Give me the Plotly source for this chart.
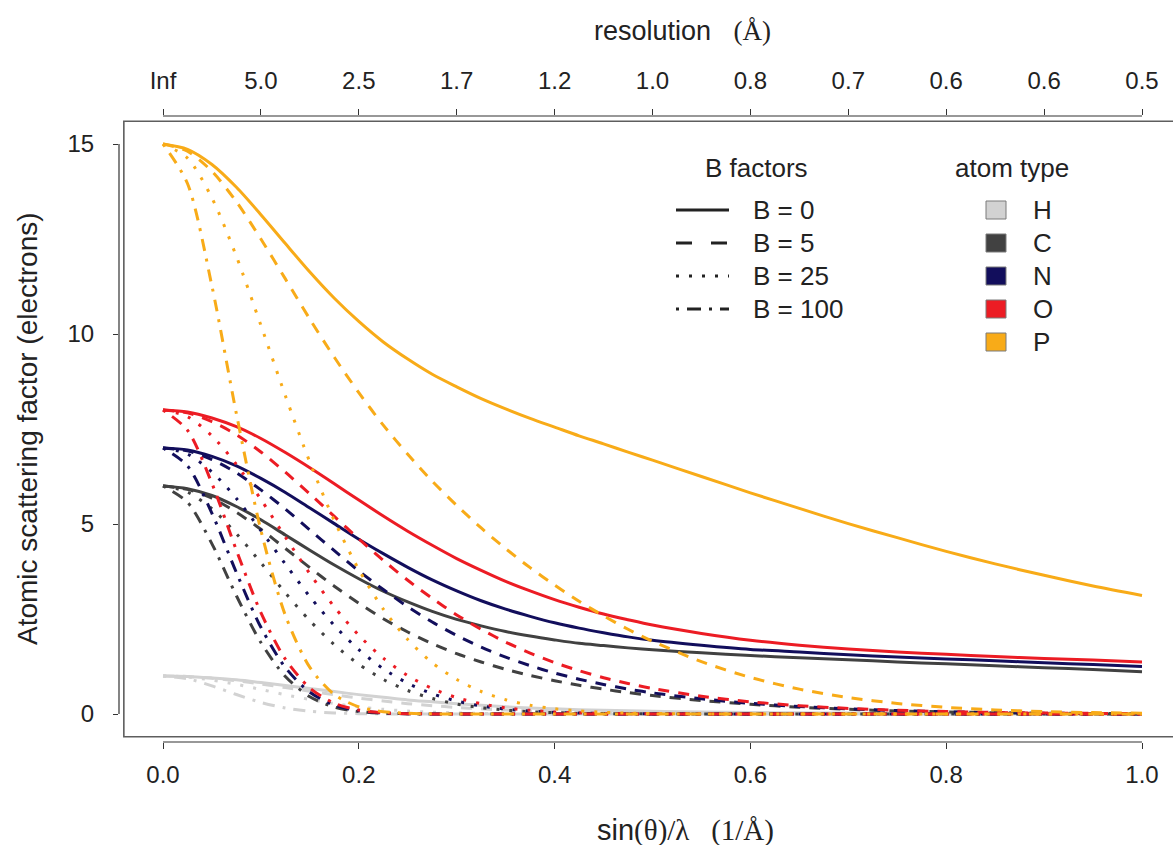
import plotly.graph_objects as go

# ---------------- data ----------------
S_FINE = [0.000, 0.025, 0.050, 0.075, 0.100, 0.125, 0.150, 0.175, 0.200, 0.225,
          0.250, 0.275, 0.300, 0.325, 0.350, 0.375, 0.400, 0.425, 0.450, 0.475,
          0.500, 0.550, 0.600, 0.650, 0.700, 0.750, 0.800, 0.850, 0.900, 0.950, 1.000]
S_B100 = [0.000, 0.025, 0.050, 0.075, 0.100, 0.125, 0.150, 0.175, 0.200, 0.225,
          0.250, 0.275, 0.300, 0.400, 0.500, 0.600, 0.700, 0.800, 0.900, 1.000]

H_B0 = [1.00, 0.99, 0.95, 0.90, 0.83, 0.75, 0.67, 0.59, 0.51, 0.44, 0.37,
        0.32, 0.27, 0.23, 0.19, 0.16, 0.135, 0.115, 0.097, 0.083, 0.071,
        0.053, 0.040, 0.031, 0.024, 0.019, 0.015, 0.012, 0.010, 0.008, 0.007]
H_B5 = [1.00, 0.987, 0.938, 0.875, 0.790, 0.694, 0.599, 0.506, 0.418, 0.342, 0.271,
        0.219, 0.172, 0.136, 0.103, 0.079, 0.061, 0.047, 0.035, 0.027, 0.020,
        0.012, 0.007, 0.004, 0.002, 0.001, 0.001, 0.0, 0.0, 0.0, 0.0]
H_B25 = [1.00, 0.975, 0.892, 0.782, 0.646, 0.507, 0.382, 0.274, 0.188, 0.124, 0.078,
         0.048, 0.029, 0.016, 0.009, 0.005, 0.003, 0.001, 0.001, 0.0, 0.0,
         0.0, 0.0, 0.0, 0.0, 0.0, 0.0, 0.0, 0.0, 0.0, 0.0]
H_B100 = [1.00, 0.930, 0.740, 0.513, 0.305, 0.157, 0.071, 0.028, 0.009, 0.003, 0.001,
          0.0, 0.0, 0.0, 0.0, 0.0, 0.0, 0.0, 0.0, 0.0]

C_B0 = [6.00, 5.93, 5.75, 5.46, 5.11, 4.71, 4.31, 3.92, 3.56, 3.23, 2.95,
        2.70, 2.49, 2.32, 2.17, 2.05, 1.95, 1.86, 1.80, 1.74, 1.69,
        1.61, 1.54, 1.48, 1.43, 1.37, 1.32, 1.27, 1.22, 1.17, 1.11]
C_B5 = [6.00, 5.912, 5.679, 5.309, 4.861, 4.356, 3.851, 3.363, 2.915, 2.508, 2.158,
        1.850, 1.588, 1.368, 1.176, 1.015, 0.876, 0.754, 0.654, 0.563, 0.484,
        0.355, 0.255, 0.179, 0.123, 0.082, 0.054, 0.034, 0.021, 0.013, 0.007]
C_B25 = [6.00, 5.838, 5.402, 4.744, 3.980, 3.187, 2.456, 1.823, 1.310, 0.911, 0.618,
         0.408, 0.262, 0.165, 0.102, 0.061, 0.036, 0.020, 0.011, 0.006, 0.003,
         0.0, 0.0, 0.0, 0.0, 0.0, 0.0, 0.0, 0.0, 0.0, 0.0]
C_B100 = [6.00, 5.571, 4.478, 3.111, 1.880, 0.987, 0.454, 0.183, 0.065, 0.020, 0.006,
          0.001, 0.0, 0.0, 0.0, 0.0, 0.0, 0.0, 0.0, 0.0]

N_B0 = [7.00, 6.95, 6.78, 6.53, 6.20, 5.83, 5.42, 5.01, 4.60, 4.22, 3.86,
        3.53, 3.24, 2.98, 2.76, 2.57, 2.40, 2.26, 2.14, 2.03, 1.94,
        1.81, 1.70, 1.63, 1.56, 1.50, 1.45, 1.40, 1.35, 1.30, 1.25]
N_B5 = [7.00, 6.928, 6.696, 6.349, 5.897, 5.392, 4.843, 4.299, 3.766, 3.276, 2.824,
        2.419, 2.066, 1.757, 1.496, 1.272, 1.078, 0.916, 0.777, 0.657, 0.556,
        0.399, 0.281, 0.197, 0.135, 0.090, 0.059, 0.038, 0.023, 0.014, 0.008]
N_B25 = [7.00, 6.842, 6.369, 5.673, 4.829, 3.945, 3.088, 2.330, 1.692, 1.190, 0.809,
         0.533, 0.341, 0.212, 0.129, 0.076, 0.044, 0.025, 0.014, 0.007, 0.004,
         0.0, 0.0, 0.0, 0.0, 0.0, 0.0, 0.0, 0.0, 0.0, 0.0]
N_B100 = [7.00, 6.529, 5.280, 3.721, 2.281, 1.222, 0.571, 0.234, 0.084, 0.027, 0.007,
          0.002, 0.0, 0.0, 0.0, 0.0, 0.0, 0.0, 0.0, 0.0]

O_B0 = [8.00, 7.95, 7.79, 7.56, 7.25, 6.88, 6.48, 6.06, 5.63, 5.21, 4.81,
        4.44, 4.09, 3.78, 3.49, 3.24, 3.01, 2.81, 2.63, 2.48, 2.34,
        2.12, 1.94, 1.81, 1.71, 1.63, 1.57, 1.51, 1.46, 1.42, 1.37]
O_B5 = [8.00, 7.925, 7.693, 7.351, 6.896, 6.363, 5.791, 5.199, 4.609, 4.045, 3.519,
        3.042, 2.608, 2.229, 1.892, 1.604, 1.352, 1.139, 0.955, 0.803, 0.670,
        0.467, 0.321, 0.219, 0.148, 0.098, 0.064, 0.041, 0.025, 0.016, 0.009]
O_B25 = [8.00, 7.827, 7.318, 6.568, 5.646, 4.655, 3.692, 2.818, 2.071, 1.470, 1.008,
         0.670, 0.431, 0.270, 0.163, 0.096, 0.055, 0.031, 0.017, 0.009, 0.005,
         0.0, 0.0, 0.0, 0.0, 0.0, 0.0, 0.0, 0.0, 0.0, 0.0]
O_B100 = [8.00, 7.468, 6.067, 4.308, 2.667, 1.442, 0.683, 0.284, 0.103, 0.033, 0.009,
          0.002, 0.0, 0.0, 0.0, 0.0, 0.0, 0.0, 0.0, 0.0]

P_B0 = [15.00, 14.86, 14.46, 13.86, 13.14, 12.38, 11.63, 10.94, 10.33, 9.79, 9.34,
        8.94, 8.61, 8.30, 8.03, 7.78, 7.55, 7.32, 7.11, 6.89, 6.68,
        6.25, 5.82, 5.41, 5.01, 4.64, 4.28, 3.95, 3.65, 3.37, 3.12]
P_B5 = [15.00, 14.81, 14.28, 13.48, 12.50, 11.45, 10.39, 9.387, 8.457, 7.601, 6.833,
        6.126, 5.490, 4.895, 4.352, 3.851, 3.392, 2.967, 2.583, 2.230, 1.914,
        1.378, 0.962, 0.654, 0.432, 0.279, 0.175, 0.107, 0.064, 0.037, 0.021]
P_B25 = [15.00, 14.63, 13.58, 12.04, 10.23, 8.376, 6.627, 5.087, 3.800, 2.762, 1.958,
         1.350, 0.907, 0.592, 0.376, 0.231, 0.138, 0.080, 0.045, 0.024, 0.013,
         0.003, 0.0, 0.0, 0.0, 0.0, 0.0, 0.0, 0.0, 0.0, 0.0]
P_B100 = [15.00, 13.96, 11.26, 7.897, 4.834, 2.595, 1.226, 0.512, 0.189, 0.062, 0.018,
          0.005, 0.001, 0.0, 0.0, 0.0, 0.0, 0.0, 0.0, 0.0]

ATOMS = ["H", "C", "N", "O", "P"]
B_LABELS = ["B = 0", "B = 5", "B = 25", "B = 100"]
BOTTOM_TICKS = [0.0, 0.2, 0.4, 0.6, 0.8, 1.0]
BOTTOM_TEXT = ["0.0", "0.2", "0.4", "0.6", "0.8", "1.0"]
TOP_TICKS = [0.0, 0.1, 0.2, 0.3, 0.4, 0.5, 0.6, 0.7, 0.8, 0.9, 1.0]
TOP_TEXT = ["Inf", "5.0", "2.5", "1.7", "1.2", "1.0", "0.8", "0.7", "0.6", "0.6", "0.5"]
Y_TICKS = [0, 5, 10, 15]

SERIES = {
    "H": [H_B0, H_B5, H_B25, H_B100],
    "C": [C_B0, C_B5, C_B25, C_B100],
    "N": [N_B0, N_B5, N_B25, N_B100],
    "O": [O_B0, O_B5, O_B25, O_B100],
    "P": [P_B0, P_B5, P_B25, P_B100],
}
S_GRIDS = [S_FINE, S_FINE, S_FINE, S_B100]

# ---------------- styles ----------------
COLORS = {"H": "#D2D2D2", "C": "#414141", "N": "#120E5C", "O": "#EC1C24", "P": "#F8AB18"}
DASHES = ["solid", "11px,9px", "3px,10px", "3px,8px,12px,8px"]
LEG_DASHES = ["solid", "16px,19px", "3px,10px", "3px,8px,14px,8px"]
FONT = "Liberation Sans, Arial, Helvetica, sans-serif"
SERIF = "Liberation Serif, Times New Roman, serif"

W, H = 1173, 845
PL, PR, PT, PB = 119, 1173, 116, 742          # plot area in pixels
X0PX, X1PX = 163, 1142                        # s = 0 and s = 1
Y0PX, Y15PX = 714, 144                        # f = 0 and f = 15
xs = (X1PX - X0PX)
ys = (Y0PX - Y15PX) / 15.0
XRANGE = [-(X0PX - PL) / xs, (PR - X0PX) / xs]
YRANGE = [-(PB - Y0PX) / ys, 15 + (Y15PX - PT) / ys]


def px(x):
    return (x - PL) / (PR - PL)


def py(y):
    return (PB - y) / (PB - PT)


fig = go.Figure()
for atom in ATOMS:
    for bi, vals in enumerate(SERIES[atom]):
        fig.add_trace(go.Scatter(
            x=S_GRIDS[bi], y=vals, mode="lines",
            line=dict(color=COLORS[atom], width=3, dash=DASHES[bi], shape="spline", smoothing=0.8),
            name=f"{atom}, {B_LABELS[bi]}", showlegend=False, hoverinfo="skip"))

# helper trace so the top (resolution) axis is rendered
fig.add_trace(go.Scatter(x=[0, 1], y=[None, None], xaxis="x2", mode="lines",
                         showlegend=False, hoverinfo="skip"))

shapes = []
# plot box (right side runs off the page)
shapes.append(dict(type="rect", xref="x", yref="y", x0=-0.04, x1=1.2, y0=-0.6, y1=15.6,
                   line=dict(color="#5e5e5e", width=1.6), layer="below"))
# axis lines spanning first to last tick
shapes.append(dict(type="line", xref="x", yref="paper", x0=0, x1=1, y0=0, y1=0,
                   line=dict(color="#333333", width=1.2)))
shapes.append(dict(type="line", xref="x", yref="paper", x0=0, x1=1, y0=1, y1=1,
                   line=dict(color="#333333", width=1.2)))
shapes.append(dict(type="line", xref="paper", yref="y", x0=0, x1=0, y0=0, y1=15,
                   line=dict(color="#333333", width=1.2)))

annotations = []
LEG_FS = 26
# legend: B factors
annotations.append(dict(text="B factors", x=px(756), y=py(168), xref="paper", yref="paper",
                        showarrow=False, font=dict(size=LEG_FS, color="#222", family=FONT),
                        xanchor="center", yanchor="middle"))
ROWS = [210, 243, 276, 309, 342]
for i, lab in enumerate(B_LABELS):
    shapes.append(dict(type="line", xref="paper", yref="paper",
                       x0=px(676), x1=px(729), y0=py(ROWS[i]), y1=py(ROWS[i]),
                       line=dict(color="#222222", width=3, dash=LEG_DASHES[i])))
    annotations.append(dict(text=lab, x=px(751), y=py(ROWS[i]), xref="paper", yref="paper",
                            showarrow=False, font=dict(size=LEG_FS, color="#222", family=FONT),
                            xanchor="left", yanchor="middle"))
# legend: atom type
annotations.append(dict(text="atom type", x=px(1012), y=py(168), xref="paper", yref="paper",
                        showarrow=False, font=dict(size=LEG_FS, color="#222", family=FONT),
                        xanchor="center", yanchor="middle"))
for i, atom in enumerate(ATOMS):
    shapes.append(dict(type="rect", xref="paper", yref="paper",
                       x0=px(986), x1=px(1006), y0=py(ROWS[i] + 9), y1=py(ROWS[i] - 9),
                       fillcolor=COLORS[atom], line=dict(color="#7a7a7a", width=1)))
    annotations.append(dict(text=atom, x=px(1031), y=py(ROWS[i]), xref="paper", yref="paper",
                            showarrow=False, font=dict(size=LEG_FS, color="#222", family=FONT),
                            xanchor="left", yanchor="middle"))

# axis titles
annotations.append(dict(
    text=f"resolution   <span style='font-family:{SERIF}'>(Å)</span>",
    x=px(682), y=py(31), xref="paper", yref="paper", showarrow=False,
    font=dict(size=27, color="#222", family=FONT), xanchor="center", yanchor="middle"))
annotations.append(dict(
    text=f"sin<span style='font-family:{SERIF}'>(θ)/λ   (1/Å)</span>",
    x=px(685), y=py(830), xref="paper", yref="paper", showarrow=False,
    font=dict(size=29, color="#222", family=FONT), xanchor="center", yanchor="middle"))
annotations.append(dict(
    text="Atomic scattering factor (electrons)",
    x=px(27), y=py(429), xref="paper", yref="paper", showarrow=False, textangle=-90,
    font=dict(size=28, color="#222", family=FONT), xanchor="center", yanchor="middle"))

TICKFONT = dict(size=24, color="#222", family=FONT)
fig.update_layout(
    width=W, height=H,
    margin=dict(l=PL, r=W - PR, t=PT, b=H - PB, pad=0),
    paper_bgcolor="white", plot_bgcolor="white",
    xaxis=dict(range=XRANGE, tickvals=BOTTOM_TICKS, ticktext=BOTTOM_TEXT, ticks="outside",
               ticklen=6, tickwidth=1.2, tickcolor="#333", showline=False, showgrid=False,
               zeroline=False, tickfont=TICKFONT, ticklabelstandoff=5),
    xaxis2=dict(range=XRANGE, overlaying="x", side="top", anchor="y", tickvals=TOP_TICKS,
                ticktext=TOP_TEXT, ticks="outside", ticklen=6, tickwidth=1.2, tickcolor="#333",
                showline=False, showgrid=False, zeroline=False, tickfont=TICKFONT,
                ticklabelstandoff=10),
    yaxis=dict(range=YRANGE, tickvals=Y_TICKS, ticks="outside", ticklen=5, tickwidth=1.2,
               tickcolor="#333", showline=False, showgrid=False, zeroline=False,
               tickfont=TICKFONT, ticklabelstandoff=14),
    shapes=shapes, annotations=annotations,
)

fig.write_html("out.html")
